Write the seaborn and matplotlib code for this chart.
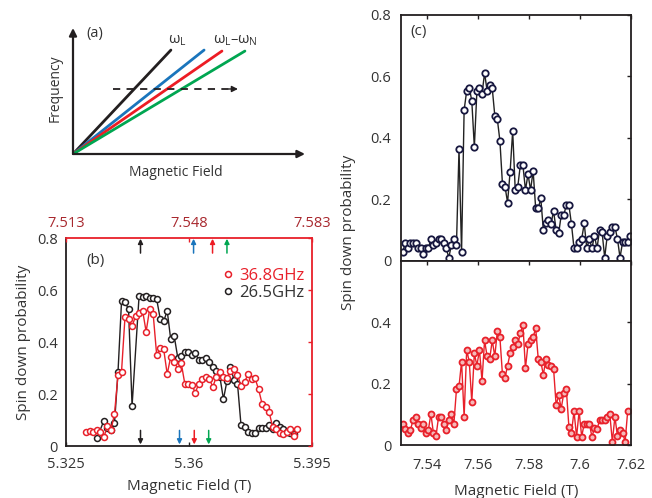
import matplotlib
matplotlib.use("Agg")
import matplotlib.pyplot as plt
from matplotlib.lines import Line2D
import numpy as np
import pandas as pd
import seaborn as sns

sns.set_theme(style="white")
plt.rcParams["font.family"] = ["Open Sans", "DejaVu Sans"]
plt.rcParams["mathtext.fontset"] = "custom"
plt.rcParams["mathtext.rm"] = "Open Sans"
plt.rcParams["mathtext.it"] = "Open Sans"
plt.rcParams["axes.unicode_minus"] = False

# ---------------- data ----------------
# panel (a) schematic: end points of the four frequency lines (B, f) in relative units
schem_names = ["wL", "blue", "red", "green"]
schem_B_end = [0.422, 0.565, 0.642, 0.741]
schem_F_end = [0.825, 0.825, 0.817, 0.817]
schem_colors = ["#231f20", "#1a75bc", "#ed1c24", "#00a651"]
sweep_level = 0.516
sweep_start, sweep_end = 0.172, 0.711

# panel (b) 26.5 GHz (bottom axis)
b_black_field = [5.3338, 5.3358, 5.3368, 5.3378, 5.3388, 5.3398, 5.3408, 5.3418, 5.3428, 5.3438,
                 5.3458, 5.3468, 5.3478, 5.3488, 5.3498, 5.3508, 5.3518, 5.3528, 5.3538, 5.3548,
                 5.3558, 5.3568, 5.3578, 5.3588, 5.3598, 5.3608, 5.3618, 5.3628, 5.3638, 5.3648,
                 5.3658, 5.3668, 5.3678, 5.3688, 5.3698, 5.3708, 5.3718, 5.3728, 5.3738, 5.3748,
                 5.3758, 5.3768, 5.3778, 5.3788, 5.3798, 5.3808, 5.3818, 5.3828, 5.3838, 5.3848,
                 5.3858, 5.3868, 5.3878, 5.3888, 5.3898]
b_black_prob = [0.030, 0.098, 0.070, 0.062, 0.087, 0.285, 0.556, 0.553, 0.526, 0.154,
                0.578, 0.572, 0.576, 0.570, 0.568, 0.565, 0.490, 0.480, 0.520, 0.410,
                0.422, 0.340, 0.345, 0.362, 0.362, 0.350, 0.356, 0.330, 0.330, 0.338,
                0.322, 0.305, 0.290, 0.265, 0.180, 0.250, 0.302, 0.255, 0.240, 0.080,
                0.073, 0.055, 0.050, 0.050, 0.068, 0.068, 0.070, 0.080, 0.065, 0.090,
                0.075, 0.065, 0.055, 0.050, 0.048]

# panel (b) 36.8 GHz (top axis)
b_red_field = [7.5188, 7.5198, 7.5208, 7.5218, 7.5228, 7.5238, 7.5248, 7.5258, 7.5268, 7.5278,
               7.5288, 7.5298, 7.5308, 7.5318, 7.5328, 7.5338, 7.5348, 7.5358, 7.5368, 7.5378,
               7.5388, 7.5398, 7.5408, 7.5418, 7.5428, 7.5438, 7.5448, 7.5458, 7.5468, 7.5478,
               7.5488, 7.5498, 7.5508, 7.5518, 7.5528, 7.5538, 7.5548, 7.5558, 7.5568, 7.5578,
               7.5588, 7.5598, 7.5608, 7.5618, 7.5628, 7.5638, 7.5648, 7.5658, 7.5668, 7.5678,
               7.5688, 7.5698, 7.5708, 7.5718, 7.5728, 7.5738, 7.5748, 7.5758, 7.5768, 7.5778,
               7.5788]
b_red_prob = [0.055, 0.058, 0.055, 0.062, 0.052, 0.035, 0.077, 0.062, 0.123, 0.274,
              0.286, 0.498, 0.489, 0.460, 0.500, 0.511, 0.520, 0.440, 0.526, 0.508,
              0.350, 0.376, 0.372, 0.276, 0.344, 0.325, 0.297, 0.318, 0.240, 0.240,
              0.235, 0.205, 0.240, 0.256, 0.265, 0.256, 0.228, 0.267, 0.285, 0.267,
              0.260, 0.290, 0.295, 0.274, 0.230, 0.245, 0.277, 0.256, 0.260, 0.218,
              0.162, 0.150, 0.130, 0.074, 0.064, 0.051, 0.046, 0.052, 0.067, 0.038,
              0.064]

# resonance markers in panel (b)
top_arrow_fields = [7.5342, 7.5493, 7.5547, 7.5588]
bottom_arrow_fields = [5.3462, 5.3573, 5.3615, 5.3656]
arrow_colors = ["#231f20", "#1a75bc", "#ed1c24", "#00a651"]

# panel (c)
c_field = [7.5307, 7.5317, 7.5327, 7.5337, 7.5347, 7.5357, 7.5367, 7.5377, 7.5387, 7.5397,
           7.5407, 7.5417, 7.5427, 7.5437, 7.5447, 7.5457, 7.5467, 7.5477, 7.5487, 7.5497,
           7.5507, 7.5517, 7.5527, 7.5537, 7.5547, 7.5557, 7.5567, 7.5577, 7.5587, 7.5597,
           7.5607, 7.5617, 7.5627, 7.5637, 7.5647, 7.5657, 7.5667, 7.5677, 7.5687, 7.5697,
           7.5707, 7.5717, 7.5727, 7.5737, 7.5747, 7.5757, 7.5767, 7.5777, 7.5787, 7.5797,
           7.5807, 7.5817, 7.5827, 7.5837, 7.5847, 7.5857, 7.5867, 7.5877, 7.5887, 7.5897,
           7.5907, 7.5917, 7.5927, 7.5937, 7.5947, 7.5957, 7.5967, 7.5977, 7.5987, 7.5997,
           7.6007, 7.6017, 7.6027, 7.6037, 7.6047, 7.6057, 7.6067, 7.6077, 7.6087, 7.6097,
           7.6107, 7.6117, 7.6127, 7.6137, 7.6147, 7.6157, 7.6167, 7.6177, 7.6187, 7.6197]
c_top_prob = [0.030, 0.060, 0.041, 0.060, 0.060, 0.060, 0.041, 0.041, 0.022, 0.041,
              0.041, 0.072, 0.051, 0.060, 0.072, 0.072, 0.060, 0.041, 0.011, 0.051,
              0.072, 0.051, 0.363, 0.030, 0.491, 0.553, 0.564, 0.521, 0.370, 0.553,
              0.562, 0.542, 0.612, 0.553, 0.572, 0.562, 0.473, 0.461, 0.391, 0.250,
              0.242, 0.190, 0.291, 0.423, 0.231, 0.242, 0.312, 0.312, 0.231, 0.282,
              0.231, 0.293, 0.171, 0.171, 0.204, 0.101, 0.122, 0.133, 0.120, 0.163,
              0.101, 0.090, 0.150, 0.150, 0.182, 0.182, 0.120, 0.041, 0.041, 0.061,
              0.072, 0.122, 0.041, 0.072, 0.041, 0.082, 0.041, 0.101, 0.093, 0.011,
              0.082, 0.093, 0.112, 0.112, 0.072, 0.011, 0.061, 0.061, 0.061, 0.082]
c_bot_prob = [0.070, 0.051, 0.038, 0.049, 0.081, 0.092, 0.067, 0.057, 0.070, 0.038,
              0.049, 0.101, 0.038, 0.029, 0.092, 0.092, 0.067, 0.049, 0.083, 0.101,
              0.070, 0.181, 0.191, 0.272, 0.092, 0.310, 0.272, 0.141, 0.299, 0.259,
              0.310, 0.209, 0.341, 0.289, 0.281, 0.341, 0.289, 0.371, 0.351, 0.230,
              0.219, 0.259, 0.299, 0.321, 0.341, 0.330, 0.364, 0.392, 0.251, 0.328,
              0.341, 0.351, 0.381, 0.281, 0.272, 0.229, 0.281, 0.262, 0.259, 0.249,
              0.130, 0.162, 0.119, 0.170, 0.181, 0.059, 0.040, 0.110, 0.027, 0.110,
              0.027, 0.070, 0.070, 0.070, 0.027, 0.054, 0.051, 0.081, 0.081, 0.081,
              0.092, 0.101, 0.011, 0.092, 0.029, 0.049, 0.040, 0.011, 0.110]

BLACK = "#231f20"
RED = "#e8202a"
DARKRED = "#a8282e"
NAVY = "#17173f"
TXT = "#333333"
FS = 10        # panel (a) / panel tags
FS_TICK = 10.5
FS_LAB = 11

W, H = 652, 498
fig = plt.figure(figsize=(W / 100, H / 100), dpi=100)


def fbox(x0, y0, x1, y1):
    return [x0 / W, 1 - y1 / H, (x1 - x0) / W, (y1 - y0) / H]


# ---------------- panel (a) ----------------
ax_a = fig.add_axes(fbox(73, 28, 305, 154))
ax_a.set_xlim(0, 1)
ax_a.set_ylim(0, 1)
ax_a.axis("off")
rows = []
for n, b, f in zip(schem_names, schem_B_end, schem_F_end):
    rows.append({"line": n, "B": 0.0, "F": 0.0})
    rows.append({"line": n, "B": b, "F": f})
df_a = pd.DataFrame(rows)
sns.lineplot(data=df_a, x="B", y="F", hue="line", palette=dict(zip(schem_names, schem_colors)),
             estimator=None, sort=False, lw=2.0, legend=False, ax=ax_a)
for xy in [(1.0, 0.0), (0.0, 1.0)]:
    ax_a.annotate("", xy=xy, xytext=(0, 0), xycoords="data",
                  arrowprops=dict(arrowstyle="-|>", lw=1.6, color=BLACK, mutation_scale=11,
                                  shrinkA=0, shrinkB=0), annotation_clip=False)
ax_a.plot([sweep_start, sweep_end - 0.03], [sweep_level, sweep_level], ls=(0, (4, 3.5)),
          color=BLACK, lw=1.3)
ax_a.annotate("", xy=(sweep_end, sweep_level), xytext=(sweep_end - 0.04, sweep_level),
              arrowprops=dict(arrowstyle="-|>", lw=1.0, color=BLACK, mutation_scale=9,
                              shrinkA=0, shrinkB=0))
ax_a.text(0.056, 0.96, "(a)", fontsize=FS + 0.5, ha="left", va="center", color=TXT)
ax_a.text(0.41, 0.90, r"$\mathregular{\omega_L}$", fontsize=FS + 0.5, ha="left", va="center",
          color=TXT)
ax_a.text(0.603, 0.90, r"$\mathregular{\omega_L}$–$\mathregular{\omega_N}$", fontsize=FS + 0.5,
          ha="left", va="center", color=TXT)
ax_a.text(-0.078, 0.52, "Frequency", rotation=90, fontsize=FS, ha="center", va="center",
          color=TXT)
ax_a.text(0.442, -0.143, "Magnetic Field", fontsize=FS, ha="center", va="center",
          color=TXT)

# ---------------- panel (b) ----------------
ax_b = fig.add_axes(fbox(66, 238, 312, 446))
mk = dict(marker="o", markersize=4.3, markerfacecolor="white", markeredgewidth=1.1)
sns.lineplot(x=b_black_field, y=b_black_prob, color=BLACK, lw=1.0, sort=False,
             markeredgecolor=BLACK, ax=ax_b, **mk)
ax_b.set_xlim(5.325, 5.395)
ax_b.set_ylim(0, 0.8)
ax_b.set_xticks([5.325, 5.36, 5.395])
ax_b.set_xticklabels(["5.325", "5.36", "5.395"])
ax_b.tick_params(axis="both", direction="in", length=3, width=1, labelsize=FS_TICK,
                 colors=BLACK, labelcolor=TXT, pad=6)
ax_b.tick_params(axis="x", pad=8)
ax_b.set_xlabel("Magnetic Field (T)", fontsize=FS_LAB, color=TXT, labelpad=5)
ax_b.set_ylabel("Spin down probability", fontsize=FS_LAB, color=TXT, labelpad=4)
for s in ["left", "bottom"]:
    ax_b.spines[s].set_color(BLACK)
    ax_b.spines[s].set_linewidth(1.3)
for s in ["top", "right"]:
    ax_b.spines[s].set_visible(False)

ax_t = ax_b.twiny()
sns.lineplot(x=b_red_field, y=b_red_prob, color=RED, lw=1.0, sort=False,
             markeredgecolor=RED, ax=ax_t, **mk)
ax_t.set_xlim(7.513, 7.583)
ax_t.set_ylim(0, 0.8)
ax_t.set_xticks([7.513, 7.548, 7.583])
ax_t.set_xticklabels(["7.513", "7.548", "7.583"])
ax_t.set_xlabel("")
ax_t.set_ylabel("")
ax_t.yaxis.set_visible(True)
ax_t.yaxis.tick_right()
ax_t.tick_params(axis="y", direction="in", length=3, width=1, colors=RED, labelright=False,
                 labelleft=False)
ax_t.tick_params(axis="x", direction="in", length=3, width=1, colors=RED,
                 labelcolor=DARKRED, labelsize=FS_TICK, pad=5)
for s in ["left", "bottom"]:
    ax_t.spines[s].set_visible(False)
for s in ["top", "right"]:
    ax_t.spines[s].set_color(RED)
    ax_t.spines[s].set_linewidth(1.3)
# shared y ticks (set after the twin so both sides use them)
ax_b.set_yticks([0, 0.2, 0.4, 0.6, 0.8])
ax_b.set_yticklabels(["0", "0.2", "0.4", "0.6", "0.8"])
ax_b.set_ylim(0, 0.8)

for xf, c in zip(top_arrow_fields, arrow_colors):
    ax_t.annotate("", xy=(xf, 0.797), xytext=(xf, 0.742),
                  arrowprops=dict(arrowstyle="-|>", lw=1.1, color=c, mutation_scale=7,
                                  shrinkA=0, shrinkB=0))
for xf, c in zip(bottom_arrow_fields, arrow_colors):
    ax_t.annotate("", xy=(xf, 0.006), xytext=(xf, 0.060), xycoords=ax_b.transData,
                  textcoords=ax_b.transData,
                  arrowprops=dict(arrowstyle="-|>", lw=1.1, color=c, mutation_scale=7,
                                  shrinkA=0, shrinkB=0))

ax_t.text(0.081, 0.894, "(b)", transform=ax_t.transAxes, fontsize=FS + 1, ha="left",
          va="center", color=TXT)
handles = [Line2D([], [], ls="none", marker="o", markersize=4.3, markerfacecolor="white",
                  markeredgewidth=1.1, markeredgecolor=RED),
           Line2D([], [], ls="none", marker="o", markersize=4.3, markerfacecolor="white",
                  markeredgewidth=1.1, markeredgecolor=BLACK)]
leg = ax_t.legend(handles, ["36.8GHz", "26.5GHz"], loc="upper right",
                  bbox_to_anchor=(1.01, 0.905), frameon=False, fontsize=12,
                  handlelength=0.7, handletextpad=0.35, labelspacing=0.05, borderaxespad=0.2)
leg.get_texts()[0].set_color(RED)
leg.get_texts()[1].set_color(TXT)

# ---------------- panel (c) ----------------
mk_c = dict(marker="o", markersize=4.6, markerfacecolor="white", markeredgewidth=1.3)
ax_c1 = fig.add_axes(fbox(401, 15, 631, 261))
sns.lineplot(x=c_field, y=c_top_prob, color="#222222", lw=1.0, sort=False,
             markeredgecolor=NAVY, ax=ax_c1, **mk_c)
ax_c1.set_xlim(7.53, 7.62)
ax_c1.set_ylim(0, 0.8)
ax_c1.set_xticks([7.54, 7.56, 7.58, 7.60, 7.62])
ax_c1.set_yticks([0, 0.2, 0.4, 0.6, 0.8])
ax_c1.set_yticklabels(["0", "0.2", "0.4", "0.6", "0.8"])
ax_c1.tick_params(axis="both", direction="in", length=3, width=1, labelsize=FS_TICK,
                  colors=BLACK, labelcolor=TXT, top=True, right=True,
                  labelbottom=False, pad=7)
ax_c1.text(0.042, 0.931, "(c)", transform=ax_c1.transAxes, fontsize=FS + 1, ha="left",
           va="center", color=TXT)

ax_c2 = fig.add_axes(fbox(401, 261, 631, 445))
sns.lineplot(x=c_field[:len(c_bot_prob)], y=c_bot_prob, color=RED, lw=1.0, sort=False,
             markeredgecolor=RED, ax=ax_c2, marker="o", markersize=4.3,
             markerfacecolor="#f5b8b8", markeredgewidth=1.3)
ax_c2.set_xlim(7.53, 7.62)
ax_c2.set_ylim(0, 0.6)
ax_c2.set_xticks([7.54, 7.56, 7.58, 7.60, 7.62])
ax_c2.set_xticklabels(["7.54", "7.56", "7.58", "7.6", "7.62"])
ax_c2.set_yticks([0, 0.2, 0.4])
ax_c2.set_yticklabels(["0", "0.2", "0.4"])
ax_c2.tick_params(axis="both", direction="in", length=3, width=1, labelsize=FS_TICK,
                  colors=BLACK, labelcolor=TXT, top=True, right=True, pad=7)
ax_c2.tick_params(axis="x", pad=9)
ax_c2.set_xlabel("Magnetic Field (T)", fontsize=FS_LAB, color=TXT, labelpad=8)
for ax in (ax_c1, ax_c2):
    ax.set_ylabel("")
    for s in ax.spines.values():
        s.set_color(BLACK)
        s.set_linewidth(1.3)
fig.text(349 / W, 1 - 232 / H, "Spin down probability", rotation=90, fontsize=FS_LAB,
         ha="center", va="center", color=TXT)

fig.savefig("out.png", dpi=100)
